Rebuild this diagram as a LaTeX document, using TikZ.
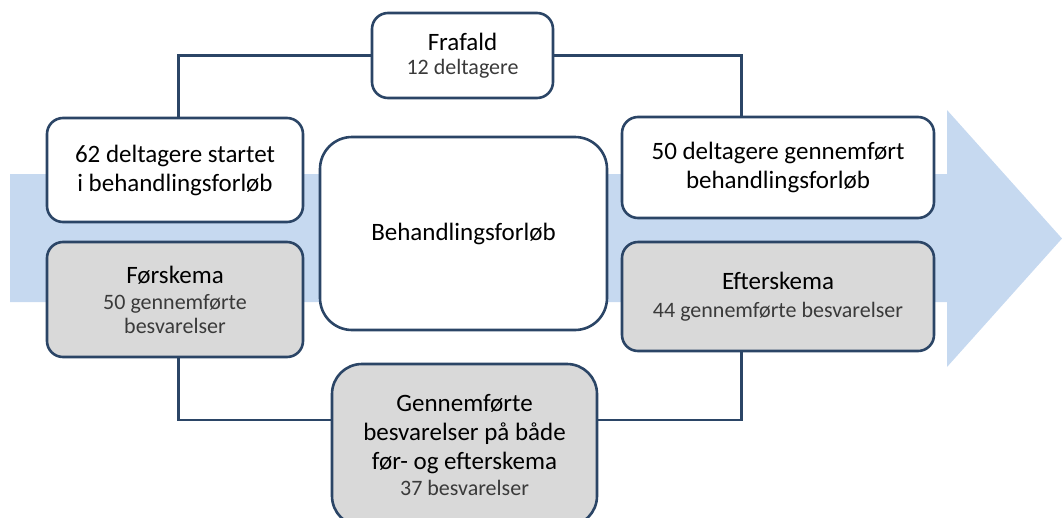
\documentclass[tikz,border=0pt]{standalone}
\usepackage{fontspec}
\setmainfont{Carlito}
\definecolor{navy}{HTML}{2B4566}
\definecolor{boxgray}{HTML}{D9D9D9}
\definecolor{arrowblue}{HTML}{C6D9F0}
\definecolor{subgray}{HTML}{3A3A3A}
\newcommand{\subtxt}{\fontsize{22}{28}\selectfont\color{subgray}}
\tikzset{
  box/.style={draw=navy, line width=2.6pt, rounded corners=16pt, align=center,
    inner sep=0pt, font=\fontsize{25}{29}\selectfont, text=black},
  whitebox/.style={box, fill=white},
  graybox/.style={box, fill=boxgray},
  link/.style={draw=navy, line width=2.6pt}
}
\begin{document}
\begin{tikzpicture}[x=1pt,y=-1pt]
\useasboundingbox (0,0) rectangle (1062,517);
\clip (0,0) rectangle (1062,517);
% big background arrow
\fill[arrowblue] (10,174) -- (947,174) -- (947,110) -- (1062,238.5) -- (947,367) -- (947,302) -- (10,302) -- cycle;

\node[whitebox, minimum width=181pt, minimum height=85pt] (fr) at (462.5,55.5)
  {\raisebox{-3pt}{Frafald}\\[-2pt]{\subtxt 12 deltagere}};
\node[whitebox, minimum width=256pt, minimum height=104pt] (start) at (175,170)
  {62 deltagere startet\\i behandlingsforløb};
\node[graybox, minimum width=256pt, minimum height=115pt] (fs) at (175,299.5)
  {Førskema\\[-3pt]{\subtxt 50 gennemførte}\\[-5pt]{\subtxt besvarelser}};
\node[whitebox, rounded corners=32pt, minimum width=287pt, minimum height=193pt] (beh) at (463.5,233.5)
  {\raisebox{-4pt}{Behandlingsforløb}};
\node[whitebox, minimum width=312pt, minimum height=101pt] (done) at (778,167.5)
  {50 deltagere gennemført\\behandlingsforløb};
\node[graybox, minimum width=312pt, minimum height=109pt] (ef) at (778,296.5)
  {Efterskema\\[-1pt]{\subtxt 44 gennemførte besvarelser}};
\node[graybox, rounded corners=30pt, minimum width=265pt, minimum height=162pt] (both) at (464.5,445)
  {Gennemførte\\besvarelser på både\\før- og efterskema\\[-3pt]{\subtxt 37 besvarelser}};

\draw[link] (fr.west) -| ([xshift=133pt]start.north west);
\draw[link] (fr.east) -| ([xshift=121pt]done.north west);
\draw[link] ([xshift=133pt]fs.south west) |- ([yshift=25pt]both.west);
\draw[link] ([xshift=121pt]ef.south west) |- ([yshift=25pt]both.east);
\end{tikzpicture}
\end{document}
